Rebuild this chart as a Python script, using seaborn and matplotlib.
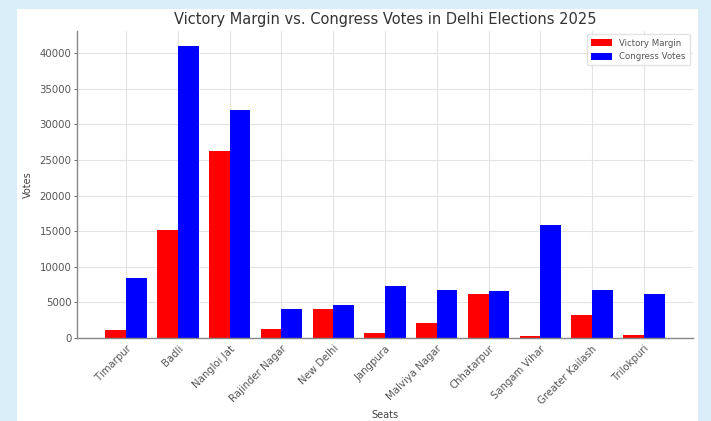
import pandas as pd
import matplotlib
matplotlib.use("Agg")
import matplotlib.pyplot as plt
import seaborn as sns
from matplotlib.patches import Rectangle

sns.set_theme(style="whitegrid")

# ------------------------
# Data
# ------------------------
seats = ["Timarpur", "Badli", "Nangloi Jat", "Rajinder Nagar", "New Delhi",
         "Jangpura", "Malviya Nagar", "Chhatarpur", "Sangam Vihar",
         "Greater Kailash", "Trilokpuri"]
victory_margin = [1168, 15163, 26251, 1231, 4089, 675, 2131, 6239, 344, 3188, 392]
congress_votes = [8361, 41071, 32028, 4015, 4568, 7350, 6770, 6601, 15863, 6711, 6147]

df = pd.DataFrame({
    "Seats": seats * 2,
    "Votes": victory_margin + congress_votes,
    "Type": ["Victory Margin"] * len(seats) + ["Congress Votes"] * len(seats),
})

# ------------------------
# Plot
# ------------------------
fig = plt.figure(figsize=(7.11, 4.21), dpi=100, facecolor="#daeefa")
# white card on the light blue page
fig.patches.append(Rectangle((17 / 711, 0), (698 - 17) / 711, 1 - 9 / 421,
                             transform=fig.transFigure, facecolor="white",
                             edgecolor="none", zorder=-10))

ax = fig.add_axes([77 / 711, 1 - 338 / 421, (693 - 77) / 711, (338 - 31) / 421])
ax.set_facecolor("white")

sns.barplot(data=df, x="Seats", y="Votes", hue="Type",
            palette={"Victory Margin": "red", "Congress Votes": "blue"},
            saturation=1, linewidth=0, ax=ax)

ax.set_xlim(-0.95, 10.95)
ax.set_yticks(range(0, 45000, 5000))
ax.set_title("Victory Margin vs. Congress Votes in Delhi Elections 2025",
             fontsize=10.5, color="#333333", pad=5)
ax.set_xlabel("Seats", fontsize=7, color="#444444", labelpad=3)
ax.set_ylabel("Votes", fontsize=7, color="#444444", labelpad=5)
ax.tick_params(axis="both", labelsize=7.3, colors="#555555", length=2.5, width=0.6,
               pad=1.5)
ax.tick_params(axis="y", left=True)
plt.setp(ax.get_xticklabels(), rotation=45, ha="right", rotation_mode="anchor")

ax.grid(True, color="#e3e3e3", linewidth=0.8)
for side in ["top", "right"]:
    ax.spines[side].set_visible(False)
for side in ["left", "bottom"]:
    ax.spines[side].set_color("#888888")
    ax.spines[side].set_linewidth(1.0)

leg = ax.legend(loc="upper right", fontsize=6.2, frameon=True,
                handlelength=2.4, handleheight=0.9, borderpad=0.5,
                borderaxespad=0.4)
leg.get_frame().set_edgecolor("#dddddd")
for t in leg.get_texts():
    t.set_color("#555555")

fig.savefig("out.png", dpi=100, facecolor=fig.get_facecolor())
